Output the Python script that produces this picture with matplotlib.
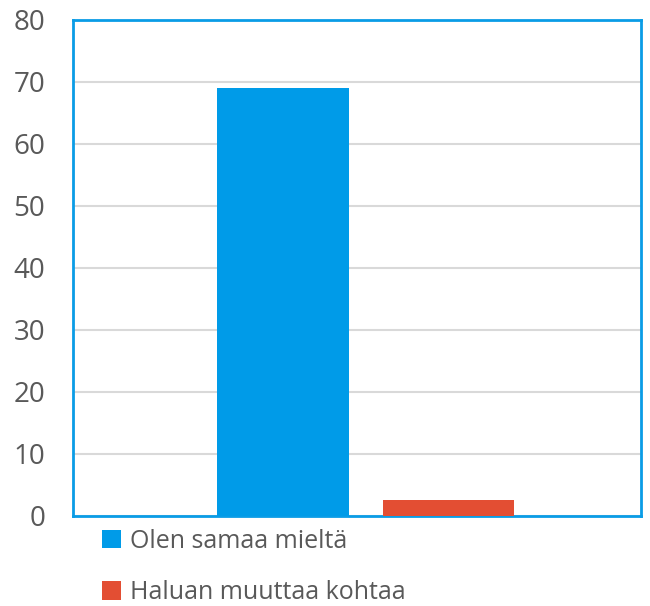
import matplotlib
matplotlib.use("Agg")
import matplotlib.pyplot as plt

# data
series = ["Olen samaa mieltä", "Haluan muuttaa kohtaa"]
values = [69, 2.6]
colors = ["#009BE8", "#E34E33"]
xpos = [0.370, 0.661]
yticks = [0, 10, 20, 30, 40, 50, 60, 70, 80]

plt.rcParams['font.family'] = ['Open Sans', 'DejaVu Sans']

fig = plt.figure(figsize=(6.5, 6.06), dpi=100)
ax = fig.add_axes([73/650, 1 - 516/606, 568/650, 496/606])

bars = []
for x, v, c, s in zip(xpos, values, colors, series):
    b = ax.bar(x, v, width=0.232, color=c, label=s, zorder=3)
    bars.append(b)

ax.set_xlim(0, 1)
ax.set_ylim(0, 80)
ax.set_yticks(yticks)
ax.set_xticks([])
ax.tick_params(axis='y', length=0, pad=20, labelsize=20, labelcolor='#595959')
ax.yaxis.grid(True, color='#D9D9D9', linewidth=1.5, zorder=0)
for sp in ax.spines.values():
    sp.set_color('#0A9CE6')
    sp.set_linewidth(2)

leg = fig.legend(handles=bars, loc='upper left', bbox_to_anchor=(92/650, 1 - 519/606),
                 frameon=False, fontsize=18, labelcolor='#595959',
                 handlelength=0.75, handleheight=0.75, handletextpad=0.35,
                 labelspacing=1.05, borderaxespad=0)

fig.savefig("out.png", dpi=100)
